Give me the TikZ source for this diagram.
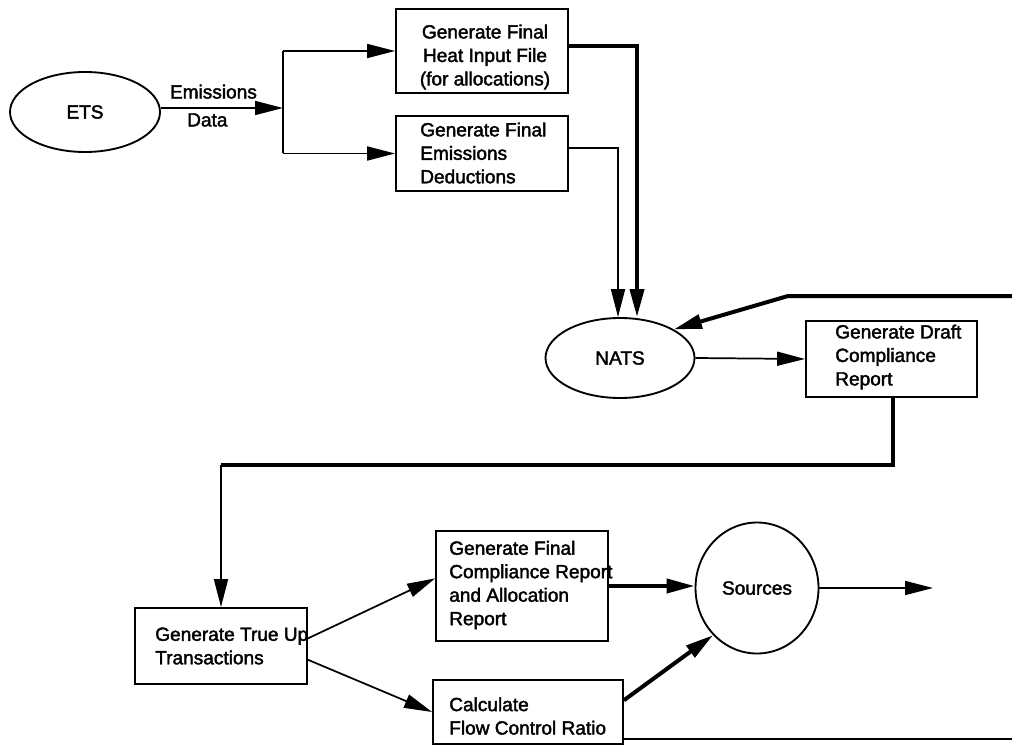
\documentclass[tikz,border=0pt]{standalone}
\usepackage{fontspec}
\setmainfont[FakeBold=2]{Liberation Sans}
\usetikzlibrary{arrows.meta,shapes.geometric}

\begin{document}
\begin{tikzpicture}[x=0.75pt,y=-0.75pt,
    font=\fontsize{14.3}{17.6}\selectfont,
    box/.style={draw,line width=1.4pt,inner sep=0pt},
    bubble/.style={draw,ellipse,line width=1.4pt,inner sep=0pt},
    txt/.style={inner sep=0pt,align=left},
    arr/.style={line width=1.3pt,-{Triangle[length=21pt 0,width=10.5pt 0]}},
    bigarr/.style={line width=3pt,-{Triangle[length=21pt 0,width=10.5pt 0]}},
    bigline/.style={line width=3pt}]
    \useasboundingbox (0,0) rectangle (1012,745);

    % Ovals
    \node[bubble,minimum width=112.5pt,minimum height=60pt] (ets) at (85,112) {ETS};
    \node[bubble,minimum width=111.75pt,minimum height=60pt] (nats) at (620,358) {NATS};
    \node[bubble,minimum width=92.25pt,minimum height=98.25pt] (sources) at (757,588) {Sources};

    % Process boxes
    \node[box,minimum width=129pt,minimum height=63pt] (heat) at (482,51) {};
    \node[box,minimum width=129pt,minimum height=56.25pt] (deduct) at (482,153.5) {};
    \node[box,minimum width=128.25pt,minimum height=57pt] (draft) at (891.5,359) {};
    \node[box,minimum width=129pt,minimum height=57pt] (trueup) at (221,646) {};
    \node[box,minimum width=129pt,minimum height=82.5pt] (final) at (522,586) {};
    \node[box,minimum width=142.5pt,minimum height=48pt] (flow) at (528,712) {};

    % Box texts
    \node[txt,align=center] (heattext) at (485,57) {Generate Final\\Heat Input File\\(for allocations)};
    \node[txt,anchor=west] (deducttext) at (420,153) {Generate Final\\Emissions\\Deductions};
    \node[txt,anchor=west] (drafttext) at (835,357) {Generate Draft\\Compliance\\Report};
    \node[txt,anchor=west] (trueuptext) at (155,646) {Generate True Up\\Transactions};
    \node[txt,anchor=west] (finaltext) at (449,585) {Generate Final\\Compliance Report\\and Allocation\\Report};
    \node[txt,anchor=west] (flowtext) at (449,716) {Calculate\\Flow Control Ratio};

    % Bends and free ends
    \coordinate (split) at (283,108);
    \coordinate (hbend) at (637,46);
    \coordinate (dbend) at (618,148);
    \coordinate (fbin) at (1012,296);
    \coordinate (fbbend) at (788,296);
    \coordinate (tbend) at (893,465);
    \coordinate (tcorner) at (221,465);
    \coordinate (sout) at (933,583);
    \coordinate (fbout) at (1012,739);

    % ETS to the two files
    \draw[arr] (ets.east |- split) -- (split)
        node[pos=0.43,above=3pt] (emis) {Emissions}
        node[pos=0.38,below=0pt] (data) {Data};
    \draw[line width=1.3pt] (split |- heat.west) -- (split |- deduct.west);
    \draw[arr] (split |- heat.west) -- (heat.west);
    \draw[arr] (split |- deduct.west) -- (deduct.west);

    % Into NATS
    \draw[bigarr] (heat.east |- hbend) -- (hbend) -- (hbend |- nats.north);
    \draw[arr] (deduct.east |- dbend) -- (dbend) -- (dbend |- nats.north);
    \draw[bigarr] (fbin) -- (fbbend) -- (nats.28);
    \draw[arr] (nats.east) -- (draft.west);

    % Draft report down to true up
    \draw[bigline] (tbend |- draft.south) -- (tbend) -- (tcorner);
    \draw[arr] (tcorner) -- (trueup.north);
    \draw[arr] (trueup.5) -- (final.175);
    \draw[arr] (trueup.-9) -- (flow.west);

    % Out to sources
    \draw[bigarr] (final.east) -- (final.east -| sources.west);
    \draw[bigarr] (flow.7) -- (sources.227);
    \draw[arr] (sources.east) -- (sources.east -| sout);
    \draw[line width=1.8pt] (fbout -| flow.east) -- (fbout);
\end{tikzpicture}
\end{document}
